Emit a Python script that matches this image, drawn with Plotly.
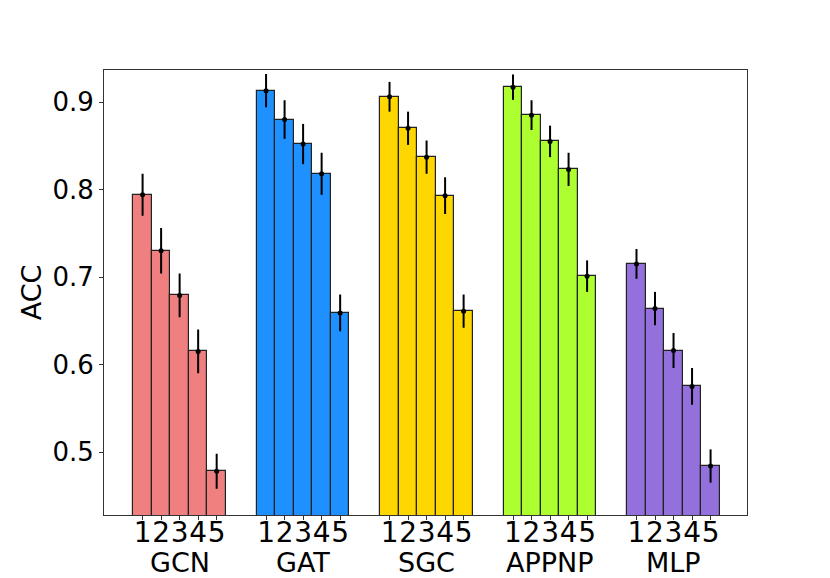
import plotly.graph_objects as go

# models and their colours
models = ["GCN", "GAT", "SGC", "APPNP", "MLP"]
colors = ["#F08080", "#1E90FF", "#FFD700", "#ADFF2F", "#9370DB"]
settings = ["1", "2", "3", "4", "5"]

# mean accuracy per model, settings 1..5
acc_gcn = [0.794, 0.730, 0.679, 0.615, 0.478]
acc_gat = [0.913, 0.880, 0.852, 0.818, 0.659]
acc_sgc = [0.906, 0.870, 0.837, 0.793, 0.661]
acc_appnp = [0.917, 0.885, 0.855, 0.823, 0.701]
acc_mlp = [0.715, 0.664, 0.616, 0.575, 0.484]

# std (error bar half-length)
std_gcn = [0.024, 0.026, 0.025, 0.025, 0.020]
std_gat = [0.019, 0.022, 0.023, 0.024, 0.021]
std_sgc = [0.017, 0.019, 0.019, 0.021, 0.019]
std_appnp = [0.0145, 0.017, 0.018, 0.019, 0.018]
std_mlp = [0.017, 0.019, 0.020, 0.021, 0.019]

accs = [acc_gcn, acc_gat, acc_sgc, acc_appnp, acc_mlp]
stds = [std_gcn, std_gat, std_sgc, std_appnp, std_mlp]

bar_w = 0.15
FONT = "DejaVu Sans"

fig = go.Figure()
tickvals, ticktext = [], []
for g, (name, col, a, s) in enumerate(zip(models, colors, accs, stds)):
    xs = [g + (j - 2) * bar_w for j in range(len(settings))]
    tickvals += xs
    ticktext += settings
    fig.add_trace(go.Bar(
        x=xs, y=a, width=bar_w, name=name,
        marker=dict(color=col, line=dict(color="#222222", width=1.2)),
        error_y=dict(type="data", array=s, visible=True, color="black",
                     thickness=2, width=0),
        showlegend=False,
    ))
    fig.add_trace(go.Scatter(
        x=xs, y=a, mode="markers",
        marker=dict(color="black", size=5),
        showlegend=False, hoverinfo="skip",
    ))
    fig.add_annotation(
        x=g, y=-0.106, xref="x", yref="paper", text=name, showarrow=False,
        yanchor="middle", borderpad=0,
        font=dict(family=FONT, size=27, color="black"),
    )

# page body adds ~7px offset, so margins are shifted to compensate
fig.update_layout(
    width=830, height=578,
    margin=dict(l=96, r=91, t=62, b=71),
    plot_bgcolor="white", paper_bgcolor="white",
    bargap=0,
    font=dict(family=FONT, size=26, color="black"),
)
fig.update_xaxes(
    range=[-0.6125, 4.595],
    tickmode="array", tickvals=tickvals, ticktext=ticktext,
    tickangle=0, ticklabelstandoff=-12,
    ticks="outside", ticklen=4, tickcolor="#333333",
    showline=True, linecolor="#333333", linewidth=1, mirror=True,
    showgrid=False, zeroline=False,
    tickfont=dict(family=FONT, size=28),
)
fig.update_yaxes(
    range=[0.428, 0.9366],
    tickvals=[0.5, 0.6, 0.7, 0.8, 0.9],
    ticktext=["0.5", "0.6", "0.7", "0.8", "0.9"],
    ticks="outside", ticklen=4, tickcolor="#333333",
    showline=True, linecolor="#333333", linewidth=1, mirror=True,
    showgrid=False, zeroline=False,
    tickfont=dict(family=FONT, size=26),
    title=dict(text="ACC", font=dict(family=FONT, size=27), standoff=2),
)

fig.write_html("out.html")
